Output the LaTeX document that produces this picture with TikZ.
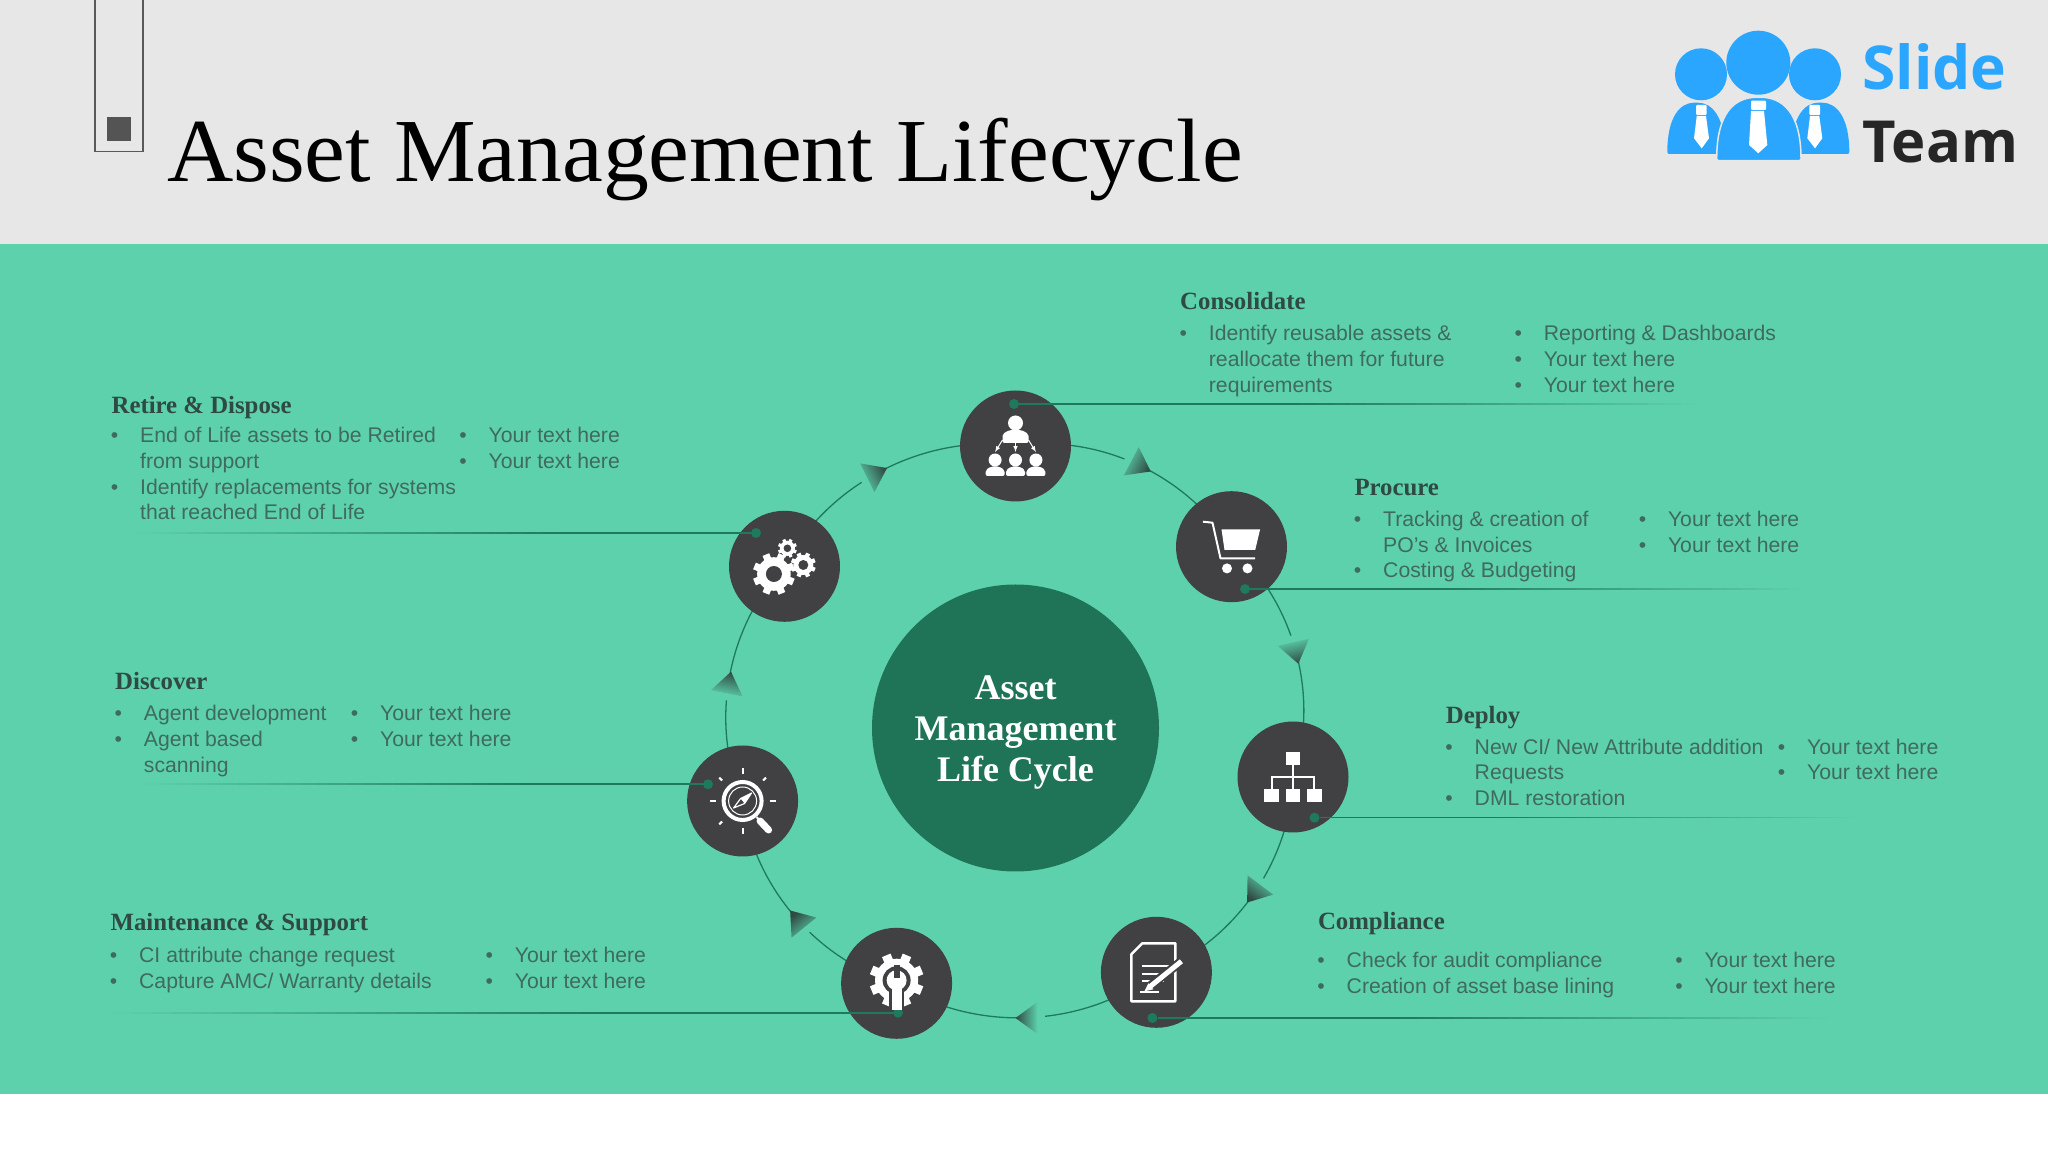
\documentclass[tikz,border=0pt]{standalone}
\usepackage{fontspec}
\setmainfont{Liberation Sans}
\newfontfamily\capfont{Liberation Serif}
\newfontfamily\titlefont[FakeStretch=1.02]{Liberation Serif}
\newfontfamily\logofont{Open Sans}
\usetikzlibrary{backgrounds}
\definecolor{slidegray}{HTML}{E7E7E7}
\definecolor{panelgreen}{HTML}{5DD1AB}
\definecolor{hubgreen}{HTML}{1F7458}
\definecolor{leadgreen}{HTML}{1F7A5C}
\definecolor{stepgray}{HTML}{414042}
\definecolor{tipdark}{HTML}{2F4A42}
\definecolor{itemgray}{HTML}{3F6B5D}
\definecolor{headgray}{HTML}{2E4A41}
\definecolor{logoblue}{HTML}{2BA6FF}
\tikzset{
  stepnode/.style={circle,fill=stepgray,minimum size=111pt,inner sep=0pt},
  hubnode/.style={circle,fill=hubgreen,minimum size=287pt,inner sep=0pt},
  hubtext/.style={inner sep=0pt,text=white,align=center,
    font=\capfont\bfseries\fontsize{36}{41}\selectfont},
  headtext/.style={anchor=base west,inner sep=0pt,text=headgray,
    font=\capfont\bfseries\fontsize{24.8}{26}\selectfont},
  itemtext/.style={anchor=north west,inner sep=0pt,text=itemgray,align=left,
    font=\fontsize{21.2}{25.6}\selectfont},
  ringline/.style={draw=leadgreen,line width=1.3pt,looseness=0.9},
  arrowtip/.style={top color=tipdark,bottom color=panelgreen},
  leaddot/.style={circle,fill=leadgreen,minimum size=10pt,inner sep=0pt},
  leadline/.style={line width=1.6pt},
  iconfill/.style={fill=white},
  iconline/.style={draw=white,line width=2pt},
  holefill/.style={fill=stepgray}
}
\newcommand{\bul}{\leavevmode\llap{\textbullet\hspace{21.8pt}}}
\newcommand{\cogicon}[4]{%
  \fill[iconfill] (#1,#2) circle (#3*.8);
  \foreach \t in {0,45,...,315}
    \fill[iconfill,shift={(#1,#2)},rotate=\t+22.5] (#3*.6,-#3*.17) rectangle (#3,#3*.17);
  \fill[holefill] (#1,#2) circle (#4);
}
\begin{document}
\begin{tikzpicture}[x=1pt,y=1pt]
\useasboundingbox (0,0) rectangle (2048,1152);

% the steps
\node[hubnode] (hub) at (1015.5,424) {};
\node[hubtext] (hub_text) at (1015.5,419) {Asset\\Management\\Life Cycle};
\node[stepnode] (consolidate) at (1015.5,706) {};
\node[stepnode] (procure) at (1231.5,605.3) {};
\node[stepnode] (deploy) at (1293,375) {};
\node[stepnode] (compliance) at (1156.4,179.7) {};
\node[stepnode] (maintenance) at (896.6,168.7) {};
\node[stepnode] (discover) at (742.6,351) {};
\node[stepnode] (retire) at (784.5,585.7) {};

\begin{scope}[on background layer]
  \fill[white] (0,0) rectangle (2048,58);
  \fill[panelgreen] (0,58) rectangle (2048,908);
  \fill[slidegray] (0,908) rectangle (2048,1152);
  \draw[ringline] (consolidate.center) to[bend left=33.5] (procure.center);
  \draw[ringline] (procure.center) to[bend left=34] (deploy.center);
  \draw[ringline] (deploy.center) to[bend left=33.5] (compliance.center);
  \draw[ringline] (compliance.center) to[bend left=35.5] (maintenance.center);
  \draw[ringline] (maintenance.center) to[bend left=33.5] (discover.center);
  \draw[ringline] (discover.center) to[bend left=33.5] (retire.center);
  \draw[ringline] (retire.center) to[bend left=35.5] (consolidate.center);
\end{scope}

% arrow heads on the ring, with the small gap behind them
\foreach \a in {62.2,12.8,-37,-90,-141,168.8,116.3} {
  \pgfmathsetmacro{\shadeangle}{\a-180}
  \fill[panelgreen,shift={(hub)},rotate=\a] (280,20) rectangle (300,29);
  \shade[arrowtip,shading angle=\shadeangle,shift={(hub)},rotate=\a]
    (290,0) -- (306,22) -- (274,22) -- cycle;
}

% leader lines
\foreach \who/\px/\py/\kx/\tx in {
    consolidate/1014/748/1300/1698,
    procure/1245/563/1440/1802,
    deploy/1314.5/334.3/1500/1861,
    compliance/1152.4/134/1400/1828,
    maintenance/898/139.3/600/111,
    discover/708/367.7/520/144,
    retire/756/619/560/135} {
  \node[leaddot] (\who_dot) at (\px,\py) {};
  \coordinate (\who_knee) at (\kx,\py);
  \draw[leadline,leadgreen] (\who_dot) -- (\who_knee);
  \foreach \s in {0,...,23} {
    \pgfmathsetmacro{\fromx}{\kx+(\tx-\kx)*\s/24}
    \pgfmathsetmacro{\tox}{\kx+(\tx-\kx)*(\s+1)/24}
    \pgfmathsetmacro{\mixpct}{100-(\s+.5)*100/24}
    \draw[leadline,color=leadgreen!\mixpct!panelgreen] (\fromx,\py) -- (\tox,\py);
  }
}

% header
\draw[draw=black!65,line width=1.6pt] (95,1152) -- (95,1000.3) -- (143,1000.3) -- (143,1152);
\fill[black!67] (107,1011) rectangle (131,1035.3);
\node[anchor=base west,inner sep=0pt,font=\titlefont\fontsize{90}{100}\selectfont] (title) at (167,970.3) {Asset Management Lifecycle};

% logo
\fill[logoblue] (1701,1077.7) circle (26);
\fill[logoblue] (1815,1077.7) circle (26);
\foreach \bx in {0,124.3} {
  \begin{scope}[shift={(\bx,0)}]
    \fill[logoblue,rounded corners=2pt] (1667.3,998) .. controls (1667.3,1035) and (1680,1049.3) .. (1696,1049.3)
      .. controls (1712,1049.3) and (1725,1035) .. (1725,998) -- cycle;
  \end{scope}
}
\foreach \bx in {0,113.3} {
  \begin{scope}[shift={(\bx,0)}]
    \fill[white,rounded corners=1pt] (1696,1047) rectangle (1706.7,1037);
    \fill[white] (1696.7,1036) -- (1694,1013.7) -- (1701.7,1003.7) -- (1709,1013.7) -- (1706,1036) -- cycle;
  \end{scope}
}
\fill[logoblue] (1758.3,1089.3) circle (32);
\draw[fill=logoblue,draw=slidegray,line width=1.5pt,rounded corners=2pt] (1716.7,991.3) .. controls (1716.7,1040) and (1735,1054.7) .. (1758.8,1054.7)
  .. controls (1782,1054.7) and (1801,1040) .. (1801,991.3) -- cycle;
\fill[white,rounded corners=1pt] (1751,1051.3) rectangle (1766,1042);
\fill[white] (1751,1041) -- (1749,1007) -- (1758.3,998.7) -- (1767.3,1007) -- (1764,1041) -- cycle;
\node[anchor=base west,inner sep=0pt,text=logoblue,font=\logofont\bfseries\fontsize{60.5}{64}\selectfont] (logo_slide) at (1862,1062) {Slide};
\node[anchor=base west,inner sep=0pt,text=black!85,font=\logofont\bfseries\fontsize{58}{64}\selectfont] (logo_team) at (1862,989.5) {Team};

% texts
\node[headtext] (consolidate_head) at (1180,842) {Consolidate};
\node[itemtext] (consolidate_left) at (1208.7,826.6) {\bul Identify reusable assets \&\\reallocate them for future\\requirements};
\node[itemtext] (consolidate_right) at (1543.7,826.6) {\bul Reporting \& Dashboards\\\bul Your text here\\\bul Your text here};

\node[headtext] (procure_head) at (1354.3,656.6) {Procure};
\node[itemtext] (procure_left) at (1383,641.1) {\bul Tracking \& creation of\\PO's \& Invoices\\\bul Costing \& Budgeting};
\node[itemtext] (procure_right) at (1667.8,641.1) {\bul Your text here\\\bul Your text here};

\node[headtext] (deploy_head) at (1445.7,428) {Deploy};
\node[itemtext] (deploy_left) at (1474.5,413.2) {\bul New CI/ New Attribute addition\\Requests\\\bul DML restoration};
\node[itemtext] (deploy_right) at (1806.9,413.2) {\bul Your text here\\\bul Your text here};

\node[headtext] (compliance_head) at (1317.8,223) {Compliance};
\node[itemtext] (compliance_left) at (1346.5,199.7) {\bul Check for audit compliance\\\bul Creation of asset base lining};
\node[itemtext] (compliance_right) at (1704.3,199.7) {\bul Your text here\\\bul Your text here};

\node[headtext] (maintenance_head) at (110.4,221.7) {Maintenance \& Support};
\node[itemtext] (maintenance_left) at (139,204.9) {\bul CI attribute change request\\\bul Capture AMC/ Warranty details};
\node[itemtext] (maintenance_right) at (514.6,204.9) {\bul Your text here\\\bul Your text here};

\node[headtext] (discover_head) at (115,462) {Discover};
\node[itemtext] (discover_left) at (143.7,446.6) {\bul Agent development\\\bul Agent based\\scanning};
\node[itemtext] (discover_right) at (380,446.6) {\bul Your text here\\\bul Your text here};

\node[headtext] (retire_head) at (111.4,738.7) {Retire \& Dispose};
\node[itemtext] (retire_left) at (140,724.6) {\bul End of Life assets to be Retired\\from support\\\bul Identify replacements for systems\\that reached End of Life};
\node[itemtext] (retire_right) at (488.4,724.6) {\bul Your text here\\\bul Your text here};

% icon: people
\begin{scope}[shift={(consolidate)}]
  \fill[iconfill] (0,23) circle (7.5);
  \fill[iconfill,rounded corners=2pt] (-13,3) -- (-13,12) -- (-6,16) -- (6,16) -- (13,12) -- (13,3) -- cycle;
  \foreach \px in {-20.4,0,20.4} {
    \fill[iconfill] (\px,-14) circle (6.5);
    \fill[iconfill,rounded corners=2pt] (\px-9.5,-30) -- (\px-9.5,-24) -- (\px-4,-20.5) -- (\px+4,-20.5) -- (\px+9.5,-24) -- (\px+9.5,-30) -- cycle;
  }
  \draw[white,line width=1pt,-latex] (-13,6) -- (-20.4,-6);
  \draw[white,line width=1pt,-latex] (0,3) -- (0,-6);
  \draw[white,line width=1pt,-latex] (13,6) -- (20.4,-6);
\end{scope}

% icon: cart
\begin{scope}[shift={(procure)}]
  \draw[iconline,line join=round] (-28.6,25) -- (-19,24) -- (-11,-11.7) -- (23.7,-11.7);
  \fill[iconfill] (-10,17.3) -- (28.6,17.3) -- (23.7,-3.3) -- (-7,-3.3) -- cycle;
  \fill[iconfill] (-4.5,-21.7) circle (5);
  \fill[iconfill] (16,-21.7) circle (5);
\end{scope}

% icon: org chart
\begin{scope}[shift={(deploy)}]
  \fill[iconfill] (-7,12) rectangle (7,25);
  \draw[iconline] (0,12) -- (0,-12);
  \draw[iconline] (-21.4,-12) -- (-21.4,0) -- (21.4,0) -- (21.4,-12);
  \foreach \px in {-21.4,0,21.4}
    \fill[iconfill] (\px-7.2,-25) rectangle (\px+7.2,-11.7);
\end{scope}

% icon: document
\begin{scope}[shift={(compliance)}]
  \draw[iconline,line width=2.5pt,line join=round] (-14,29) -- (19,29) -- (19,-29) -- (-25,-29) -- (-25,18) -- cycle;
  \foreach \ly/\lx in {6/8,-1.5/8,-9/2}
    \draw[white,line width=1.8pt] (-14,\ly) -- (\lx+6,\ly);
  \draw[white,line width=1.8pt] (-16,-20) -- (3,-20);
  \draw[stepgray,line width=9pt] (-8,-15) -- (25,11);
  \draw[white,line width=5pt] (-6,-14) -- (25,11);
  \fill[iconfill] (-12,-19) -- (-8,-11) -- (-3,-17) -- cycle;
\end{scope}

% icon: wrench in a cog
\begin{scope}[shift={(maintenance)}]
  \cogicon{0}{3}{27}{14}
  \fill[iconfill] (0,3) circle (10);
  \fill[holefill] (-3,5) rectangle (3,18);
  \fill[holefill] (-7.5,-27) rectangle (7.5,-6);
  \fill[iconfill] (-5,-27) rectangle (5,-2);
\end{scope}

% icon: magnifier with compass
\begin{scope}[shift={(discover)}]
  \draw[white,line width=4pt] (0,0) circle (19);
  \draw[white,line width=1pt] (0,0) circle (14);
  \draw[white,line width=1.2pt,line join=round] (9,8) -- (2,-2.5) -- (-9,-7) -- (-2,2.5) -- cycle;
  \fill[iconfill] (9,8) -- (-2,2.5) -- (2,-2.5) -- cycle;
  \draw[white,line width=7pt,line cap=round] (17.5,-20) -- (26,-29);
  \draw[white,line width=2pt] (14,-16) -- (19,-22);
  \foreach \ra in {0,90,180,270}
    \draw[white,line width=2pt,rotate=\ra] (27,0) -- (33,0);
  \foreach \ra in {45,135,225}
    \draw[white,line width=2pt,rotate=\ra] (29,0) -- (33,0);
\end{scope}

% icon: three cogs
\begin{scope}[shift={(retire)}]
  \cogicon{-10.6}{-7.7}{21}{8}
  \cogicon{18.8}{1.3}{12.5}{5}
  \cogicon{2.9}{18}{9.5}{3.8}
\end{scope}
\end{tikzpicture}
\end{document}
